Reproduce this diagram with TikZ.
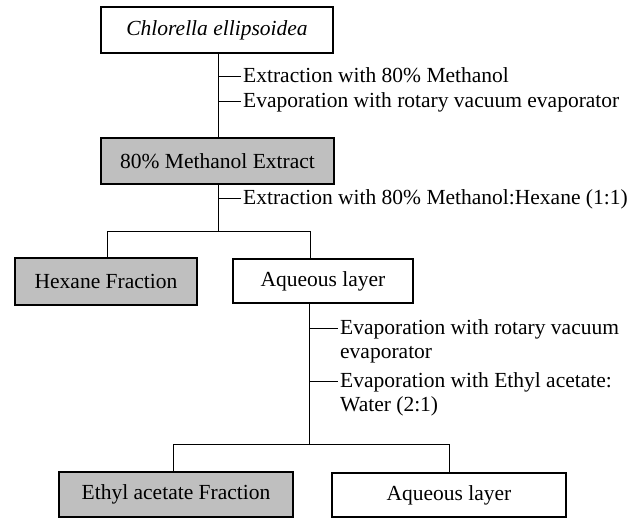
\documentclass[tikz,border=0pt]{standalone}
\usepackage{fontspec}
\setmainfont{Liberation Serif}
\begin{document}
\begin{tikzpicture}[x=1pt,y=-1pt,
  box/.style={draw, line width=1.1pt, minimum height=46pt, inner sep=0pt,
    font=\fontsize{21.5}{24}\selectfont},
  shaded/.style={box, fill=black!25},
  lbl/.style={anchor=north west, inner sep=0pt, align=left,
    font=\fontsize{21.5}{24}\selectfont},
  ln/.style={line width=0.9pt}]
\useasboundingbox (0,0) rectangle (635,518);
% boxes
\node[box, minimum width=232pt] (b1) at (217,30) {\textit{Chlorella ellipsoidea}};
\node[shaded, minimum width=233pt] (b2) at (217.5,161) {80\% Methanol Extract};
\node[shaded, minimum width=182pt, minimum height=47pt] (hex) at (106,281.5) {Hexane Fraction};
\node[box, minimum width=180pt, minimum height=44pt] (aq1) at (323,281) {Aqueous layer};
\node[shaded, minimum width=234pt, minimum height=45pt] (eth) at (176,494.5) {Ethyl acetate Fraction};
\node[box, minimum width=234pt, minimum height=44pt] (aq2) at (449,495) {Aqueous layer};
% step labels
\node[lbl] (l1) at (243,67) {Extraction with 80\% Methanol};
\node[lbl] (l2) at (243,92) {Evaporation with rotary vacuum evaporator};
\node[lbl] (l3) at (243,189) {Extraction with 80\% Methanol:Hexane (1:1)};
\node[lbl] (l4) at (340,319) {Evaporation with rotary vacuum\\evaporator};
\node[lbl] (l5) at (340,372) {Evaporation with Ethyl acetate:\\Water (2:1)};
% junction coordinates
\coordinate (t1) at (218,76);
\coordinate (t2) at (218,101);
\coordinate (t3) at (218,198);
\coordinate (j1) at (218,231);
\coordinate (jl) at (107,231);
\coordinate (jr) at (310,231);
\coordinate (t4) at (309,328);
\coordinate (t5) at (309,381);
\coordinate (j2) at (309,444);
\coordinate (kl) at (173,444);
\coordinate (kr) at (449,444);
% connectors
\draw[ln] (b1.south -| t1) -- (b2.north -| t1);
\draw[ln] (t1) -- ([xshift=-2pt]t1 -| l1.north west);
\draw[ln] (t2) -- ([xshift=-2pt]t2 -| l2.north west);
\draw[ln] (b2.south -| j1) -- (j1);
\draw[ln] (t3) -- ([xshift=-2pt]t3 -| l3.north west);
\draw[ln] (hex.north -| jl) -- (jl) -- (jr) -- (aq1.north -| jr);
\draw[ln] (aq1.south -| j2) -- (j2);
\draw[ln] (t4) -- ([xshift=-2pt]t4 -| l4.north west);
\draw[ln] (t5) -- ([xshift=-2pt]t5 -| l5.north west);
\draw[ln] (eth.north -| kl) -- (kl) -- (kr) -- (aq2.north);
\end{tikzpicture}
\end{document}
